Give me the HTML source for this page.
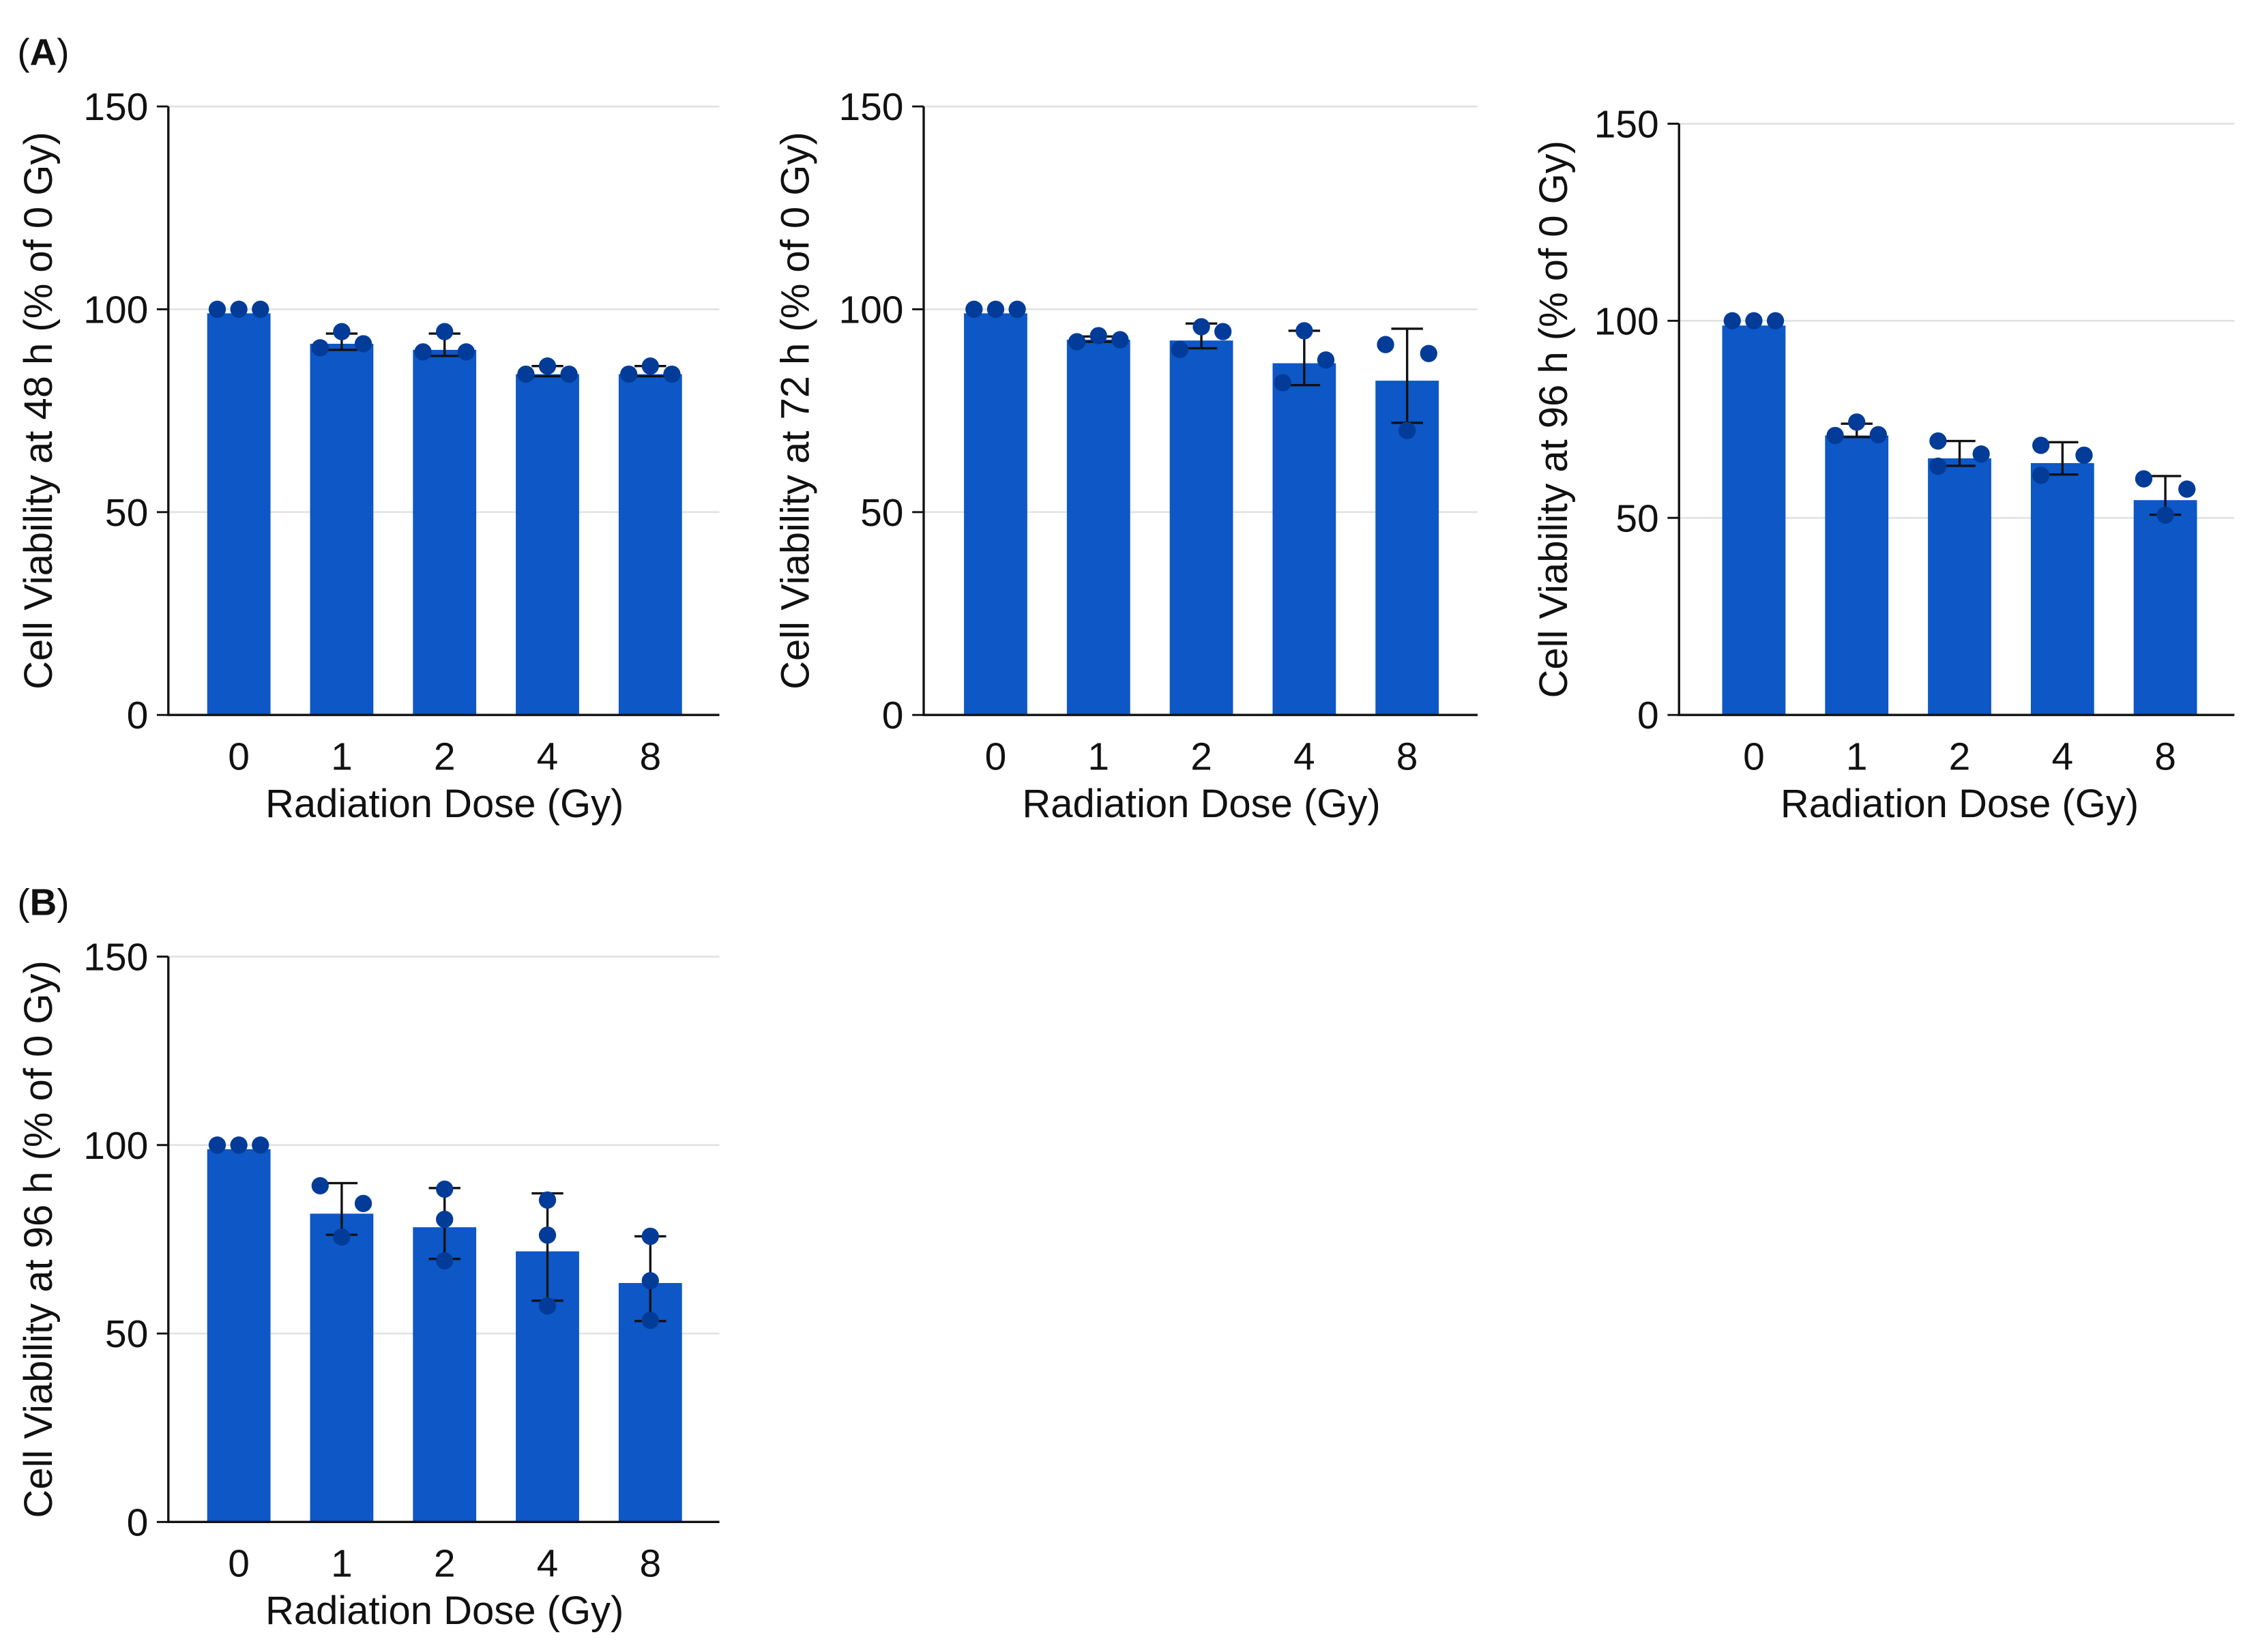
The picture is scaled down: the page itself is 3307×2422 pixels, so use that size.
<!DOCTYPE html>
<html><head><meta charset="utf-8"><style>
html,body{margin:0;padding:0;background:#fff;}
svg{display:block;font-family:"Liberation Sans",Arial,sans-serif;}
</style></head><body>
<svg id="fig" width="3307" height="2422" viewBox="0 0 1568 1148.4" xmlns="http://www.w3.org/2000/svg">
<text x="12" y="45" font-size="26" fill="#111">(<tspan font-weight="bold">A</tspan>)</text>
<text x="12" y="636" font-size="26" fill="#111">(<tspan font-weight="bold">B</tspan>)</text>
</svg>
<script>
const categories = ["0","1","2","4","8"];
const yTicks = [0,50,100,150];
const titleA1 = "Cell Viability at 48 h (% of 0 Gy)";
const titleA2 = "Cell Viability at 72 h (% of 0 Gy)";
const titleA3 = "Cell Viability at 96 h (% of 0 Gy)";
const titleB = "Cell Viability at 96 h (% of 0 Gy)";
const meansA1 = [99, 91.5, 90, 84, 84];
const errLoA1 = [99, 90, 88.5, 83.5, 83.5];
const errHiA1 = [99, 94, 94, 86, 86];
const dotsA1 = [[100,100,100],[90.5,94.5,91.5],[89.5,94.5,89.5],[84,86,84],[84,86,84]];
const meansA2 = [99, 92.5, 92.3, 86.7, 82.4];
const errLoA2 = [99, 92, 90.4, 81.3, 72];
const errHiA2 = [99, 93.3, 96.5, 94.7, 95.2];
const dotsA2 = [[100,100,100],[92,93.5,92.5],[90.1,95.7,94.5],[81.9,94.7,87.5],[91.3,70.1,89.1]];
const meansA3 = [98.8, 70.9, 65.1, 63.9, 54.5];
const errLoA3 = [98.8, 70.5, 63.2, 61, 50.8];
const errHiA3 = [98.8, 73.9, 69.5, 69.2, 60.6];
const dotsA3 = [[100,100,100],[70.9,74.3,71.1],[69.5,63.1,66.2],[68.4,60.8,65.9],[59.9,50.7,57.3]];
const meansB = [98.9, 81.8, 78.2, 71.8, 63.4];
const errLoB = [98.9, 76.2, 69.8, 58.7, 53.3];
const errHiB = [98.9, 89.9, 88.6, 87.2, 75.8];
const dotsB = [[100,100,100],[89.2,75.6,84.5],[88.3,80.3,69.3],[85.4,76.1,57.3],[75.8,64,53.5]];

const NS = "http://www.w3.org/2000/svg";
const svg = document.getElementById('fig');
function mk(tag, attrs, parent){const e=document.createElementNS(NS,tag);for(const k in attrs)e.setAttribute(k,attrs[k]);(parent||svg).appendChild(e);return e;}

const panels = [
 {id:'a1', ax:117, pad:49, y0:497, y150:74, xEnd:500, title:titleA1, means:meansA1, lo:errLoA1, hi:errHiA1, dots:dotsA1, offs:[[-1,0,1],[-1,0,1],[-1,0,1],[-1,0,1],[-1,0,1]], titleX:27},
 {id:'a2', ax:642, pad:50, y0:497, y150:74, xEnd:1027, title:titleA2, means:meansA2, lo:errLoA2, hi:errHiA2, dots:dotsA2, offs:[[-1,0,1],[-1,0,1],[-1,0,1],[-1,0,1],[-1,0,1]], titleX:553},
 {id:'a3', ax:1167, pad:52, y0:497, y150:86, xEnd:1553, title:titleA3, means:meansA3, lo:errLoA3, hi:errHiA3, dots:dotsA3, offs:[[-1,0,1],[-1,0,1],[-1,-1,1],[-1,-1,1],[-1,0,1]], titleX:1080},
 {id:'b', ax:117, pad:49, y0:1058, y150:665, xEnd:500, title:titleB, means:meansB, lo:errLoB, hi:errHiB, dots:dotsB, offs:[[-1,0,1],[-1,0,1],[0,0,0],[0,0,0],[0,0,0]], titleX:27}
];

panels.forEach(p=>{
  const g = mk('g',{});
  
  
  const yScale = v => p.y0 - (v/150)*(p.y0-p.y150);
  const xScale = i => p.ax + p.pad + i*71.5;
  yTicks.forEach(t=>{
    if(t>0){
      const gl = mk('line',{x1:p.ax,x2:p.xEnd,y1:yScale(t),y2:yScale(t),stroke:'#e2e2e2','stroke-width':1.3},g);
      
      
    }
    const tk = mk('line',{x1:p.ax-8,x2:p.ax,y1:yScale(t),y2:yScale(t),stroke:'#111','stroke-width':1.4},g);
    
    
    const tl = mk('text',{x:p.ax-14,y:yScale(t)+9.5,'font-size':27,'text-anchor':'end',fill:'#111'},g);
    tl.textContent = t;
    
    
  });
  categories.forEach((c,i)=>{
    const cx = xScale(i);
    const bar = mk('rect',{x:cx-22,y:yScale(p.means[i]),width:44,height:p.y0-yScale(p.means[i]),fill:'#0D57C6'},g);
    
    
    if(p.hi[i]-p.lo[i]>0.1){
      const eb = mk('path',{d:`M${cx} ${yScale(p.hi[i])}V${yScale(p.lo[i])}M${cx-11} ${yScale(p.hi[i])}H${cx+11}M${cx-11} ${yScale(p.lo[i])}H${cx+11}`,stroke:'#111','stroke-width':1.6,fill:'none'},g);
      
      
    }
    p.dots[i].forEach((v,j)=>{
      const d = mk('ellipse',{cx:cx+p.offs[i][j]*15,cy:yScale(v),rx:6,ry:6,fill:'#023C98'},g);
      
      
    });
    const xl = mk('text',{x:cx,y:p.y0+38,'font-size':27,'text-anchor':'middle',fill:'#111'},g);
    xl.textContent = c;
    
    
  });
  const axes = mk('path',{d:`M${p.ax} ${p.y150}V${p.y0}H${p.xEnd}`,stroke:'#111','stroke-width':1.6,fill:'none'},g);
  
  
  const xt = mk('text',{x:(p.ax+p.pad+xScale(4))/2,y:p.y0+71,'font-size':27.5,'text-anchor':'middle',fill:'#111'},g);
  xt.textContent = 'Radiation Dose (Gy)';
  
  
  const cy = (p.y0+p.y150)/2;
  const yt = mk('text',{x:0,y:0,'font-size':27.5,'text-anchor':'middle',fill:'#111',transform:`translate(${p.titleX+9},${cy}) rotate(-90)`},g);
  yt.textContent = p.title;
  
  
});
</script>
</body></html>
